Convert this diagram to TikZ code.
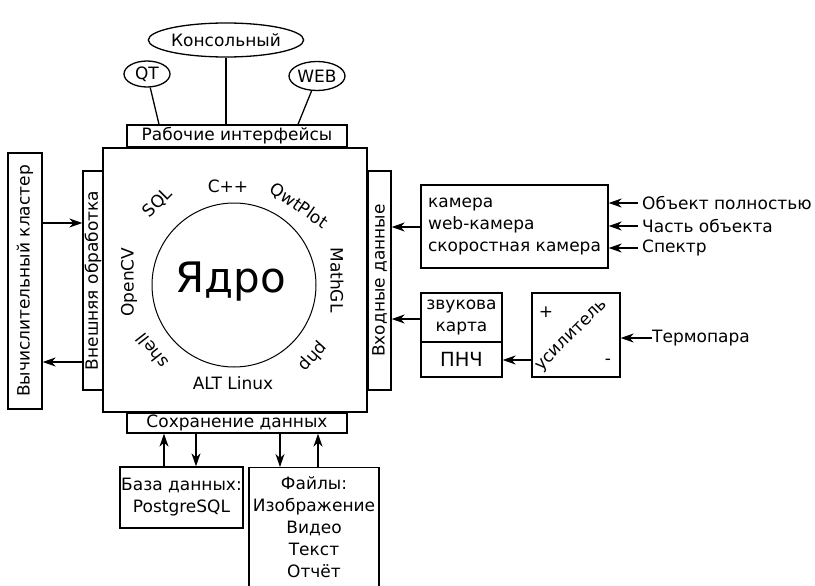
\documentclass[tikz,border=0pt]{standalone}
\usepackage{fontspec}
\setmainfont{DejaVu Sans}
\usetikzlibrary{arrows.meta,shapes.geometric}
\begin{document}
\begin{tikzpicture}[x=1pt,y=-1pt,
  every node/.style={font=\fontsize{17}{22}\selectfont},
  box/.style={draw,line width=1.3pt,inner sep=0pt,align=center},
  oval/.style={draw,line width=1.3pt,ellipse,inner sep=0pt},
  lbl/.style={inner sep=0pt},
  arr/.style={line width=1.3pt,-{Stealth[length=13pt,width=9pt,inset=4pt]}},
  ln/.style={line width=1.3pt}]
\useasboundingbox (0,0) rectangle (815,586);
% core
\node[box,minimum width=264,minimum height=264] (core) at (235,280) {};
\draw[line width=1pt] (234,285) circle[radius=82];
\node[lbl,font=\fontsize{42}{42}\selectfont] (yadro) at (231,282) {Ядро};
\node[lbl] (cpp) at (228,186) {C++};
\node[lbl,rotate=45] (sql) at (158,203) {SQL};
\node[lbl,rotate=-35] (qwt) at (299,206) {QwtPlot};
\node[lbl,rotate=-90] (mgl) at (337,280) {MathGL};
\node[lbl,rotate=90] (ocv) at (129,282) {OpenCV};
\node[lbl,rotate=128] (shell) at (152,351) {shell};
\node[lbl,rotate=-132] (php) at (313,357) {php};
\node[lbl] (alt) at (233,383) {ALT Linux};
% top
\node[box,minimum width=220,minimum height=22] (rab) at (237,136) {Рабочие интерфейсы};
\node[oval,minimum width=46,minimum height=26] (qt) at (147,74) {QT};
\node[oval,minimum width=120,minimum height=34] (kons) at (226,40) {Консольный};
\node[oval,minimum width=56,minimum height=29] (web) at (317,76) {WEB};
\draw[ln] (qt) -- (rab.north -| 159,0);
\draw[ln] (kons) -- (rab.north -| kons);
\draw[ln] (web.250) -- (rab.north -| 298,0);
% left
\node[box,minimum width=20,minimum height=219] (ext) at (93,280.5) {\rotatebox{90}{Внешняя обработка}};
\node[box,minimum width=34,minimum height=256] (cl) at (25,281) {\rotatebox{90}{Вычислительный кластер}};
\draw[arr] (cl.east |- 0,223) -- (ext.west |- 0,223);
\draw[arr] (ext.west |- 0,362) -- (cl.east |- 0,362);
% right
\node[box,minimum width=23,minimum height=219] (inp) at (379.5,280.5) {\rotatebox{90}{Входные данные}};
\node[box,minimum width=187,minimum height=83,align=left] (cam) at (514.5,226.5) {камера\\web-камера\\скоростная камера};
\node[lbl,anchor=west] (o1) at (642,203) {Объект полностью};
\node[lbl,anchor=west] (o2) at (642,226) {Часть объекта};
\node[lbl,anchor=west] (o3) at (642,248) {Спектр};
\draw[arr] ([xshift=-4pt]o1.west) -- (cam.east |- o1.west);
\draw[arr] ([xshift=-4pt]o2.west) -- (cam.east |- o2.west);
\draw[arr] ([xshift=-4pt]o3.west) -- (cam.east |- o3.west);
\draw[arr] (cam.west |- 0,227) -- (inp.east |- 0,227);
\node[box,minimum width=81,minimum height=49] (zv) at (461.5,317.5) {звукова\\карта};
\node[box,minimum width=81,minimum height=35,font=\fontsize{19.5}{22}\selectfont] (pnch) at (461.5,359.5) {ПНЧ};
\node[box,minimum width=88,minimum height=84] (amp) at (576,335) {};
\node[lbl,rotate=45] (us) at (572,336) {усилитель};
\node[lbl] (plus) at (546,312) {+};
\node[lbl] (minus) at (608,362) {-};
\node[lbl,anchor=west] (term) at (652,338) {Термопара};
\draw[arr] (term.west) -- (amp.east |- term.west);
\draw[arr] (amp.west |- 0,360) -- (pnch.east |- 0,360);
\draw[arr] (zv.west |- 0,319) -- (inp.east |- 0,319);
% bottom
\node[box,minimum width=220,minimum height=20] (sav) at (237,423) {Сохранение данных};
\node[box,minimum width=123,minimum height=61] (db) at (181.5,497.5) {База данных:\\PostgreSQL};
\node[box,minimum width=130,minimum height=140,anchor=north] (files) at (314,467) {};
\node[lbl,anchor=north,align=center] (ftxt) at (314,476) {Файлы:\\Изображение\\Видео\\Текст\\Отчёт};
\draw[arr] (db.north -| 164,0) -- (sav.south -| 164,0);
\draw[arr] (sav.south -| 196,0) -- (db.north -| 196,0);
\draw[arr] (sav.south -| 280,0) -- (files.north -| 280,0);
\draw[arr] (files.north -| 318,0) -- (sav.south -| 318,0);
\end{tikzpicture}
\end{document}
